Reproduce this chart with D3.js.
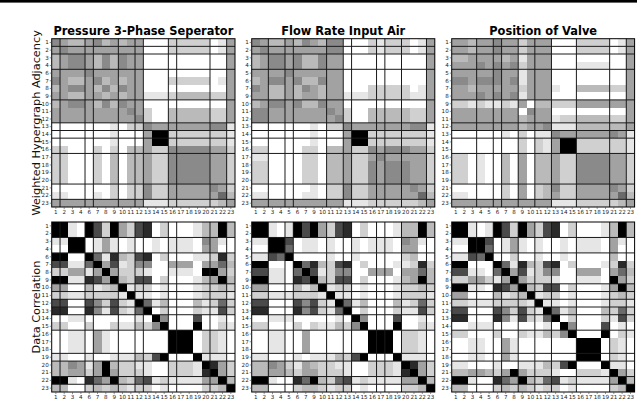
<!DOCTYPE html>
<html>
<head>
<meta charset="utf-8">
<script src="https://cdn.jsdelivr.net/npm/d3@7"></script>
<style>
  body { margin: 0; background: #fff; }
  svg { display: block; font-family: "DejaVu Sans", sans-serif; }
</style>
</head>
<body>
<svg id="chart" width="640" height="400"></svg>
<script>
// titles
const titles = ["Pressure 3-Phase Seperator", "Flow Rate Input Air", "Position of Valve"];
const rowTitles = ["Weighted Hypergraph Adjacency", "Data Correlation"];

// variables shown in each column (the target variable is left out)
const labelsPressure = [1, 2, 3, 4, 6, 7, 8, 9, 10, 11, 12, 13, 14, 15, 16, 17, 18, 19, 20, 21, 22, 23];
const labelsFlow = [1, 2, 3, 4, 5, 6, 7, 9, 10, 11, 12, 13, 14, 15, 16, 17, 18, 19, 20, 21, 22, 23];
const labelsValve = [1, 2, 3, 4, 5, 6, 7, 8, 9, 10, 11, 12, 13, 14, 15, 16, 17, 18, 19, 21, 22, 23];

// weighted hypergraph adjacency, upper triangle per row, shade 0 (white) .. 9 (black)
const adjPressure = [
  "5433453434400022222014",
  "544444444400022222014",
  "55435354400000000004",
  "5435354400000000004",
  "544444400000000004",
  "53434400022222014",
  "5354400000000004",
  "434411123333224",
  "54400000000004",
  "5420033333224",
  "520033333224",
  "54444444551",
  "9922222221",
  "922222221",
  "55555442",
  "5555442",
  "555442",
  "55442",
  "5442",
  "542",
  "63",
  "4"
];
const adjFlow = [
  "5433435435500021222014",
  "544444445500021222014",
  "55453354400000000004",
  "5453354400000000004",
  "544444400000000004",
  "53354400000000004",
  "5434400022222014",
  "434411122222114",
  "54400000000004",
  "5420033333224",
  "520033333224",
  "54444444551",
  "9922222221",
  "922222221",
  "54555442",
  "5444442",
  "555442",
  "55442",
  "5442",
  "542",
  "63",
  "4"
];
const adjValve = [
  "4434454424440002222014",
  "434454424440002222014",
  "44443414440000000004",
  "5454524440001111004",
  "454414440000000004",
  "54514440000000004",
  "4424441003333224",
  "514440000000004",
  "40332224444444",
  "5440000000004",
  "441223333224",
  "51113333334",
  "5444444541",
  "992222221",
  "92222221",
  "5555442",
  "555442",
  "55442",
  "5442",
  "542",
  "63",
  "4"
];

// correlation between all 23 variables, upper triangle per row, same shades
const corrAll = [
  "99101972942780200013393",
  "9101972942780200013393",
  "997014101001011105410",
  "96014101001011104400",
  "9002001001000002300",
  "961832780200011282",
  "94712550044404463",
  "9422210011109942",
  "932770200013493",
  "91220100012232",
  "9110100012221",
  "961300031262",
  "90200021172",
  "9500070010",
  "900090021",
  "99902210",
  "9902210",
  "902210",
  "91110",
  "9842",
  "942",
  "93",
  "9"
];

// layout
const colX = [[51.7, 235], [251.7, 434.8], [451.7, 634.6]];
const rowY = [[38.7, 207], [222, 392]];
// cell borders that show up as dark lines
const vLines = [[1, 4, 5, 8, 10, 11, 14, 15, 19, 21], [2, 4, 5, 9, 11, 12, 15, 16, 18, 21], [3, 5, 6, 8, 10, 12, 15, 19, 21]];
const hLines = [[1, 2, 4, 8, 11, 12, 13, 15, 19, 21], [2, 4, 8, 9, 10, 11, 12, 14, 17, 18, 20, 21]];

const shade = d3.scaleLinear()
  .domain(d3.range(10))
  .range(["#ffffff", "#e6e6e6", "#d0d0d0", "#bababa", "#a2a2a2", "#8a8a8a", "#6a6a6a", "#4a4a4a", "#2a2a2a", "#000000"]);

function fromUpper(rows) {
  let n = rows.length;
  let m = d3.range(n).map(() => new Array(n).fill(0));
  rows.forEach((r, i) => {
    r.split('').forEach((c, k) => {
      m[i][i + k] = +c;
      m[i + k][i] = +c;
    });
  });
  return m;
}

// pick the panel's variables out of the full correlation
let corrFull = fromUpper(corrAll);
function subCorr(labels) {
  return labels.map(a => labels.map(b => corrFull[a - 1][b - 1]));
}

const svg = d3.select('#chart');
svg.append('rect').attr('x', 0).attr('y', 0).attr('width', 637).attr('height', 2.6).attr('fill', '#000');

const labelSets = [labelsPressure, labelsFlow, labelsValve];
const panels = [
  [fromUpper(adjPressure), fromUpper(adjFlow), fromUpper(adjValve)],
  labelSets.map(subCorr)
];

function drawPanel(g, labels, m, cx, ry, vl, hl) {
  let names = labels.map(String);
  let x = d3.scaleBand().domain(names).range(colX[cx]);
  let y = d3.scaleBand().domain(names).range(rowY[ry]);
  let cells = [];
  m.forEach((row, i) => row.forEach((v, j) => cells.push({r: names[i], c: names[j], v: v})));

  g.selectAll('rect.cell')
    .data(cells)
    .enter().append('rect')
    .attr('class', 'cell')
    .attr('x', d => x(d.c))
    .attr('y', d => y(d.r))
    .attr('width', x.bandwidth())
    .attr('height', y.bandwidth())
    .attr('fill', d => shade(d.v))
    .attr('shape-rendering', 'crispEdges');

  // dark separators
  g.selectAll('line.v')
    .data(vl)
    .enter().append('line')
    .attr('x1', k => x.range()[0] + k * x.bandwidth())
    .attr('x2', k => x.range()[0] + k * x.bandwidth())
    .attr('y1', y.range()[0]).attr('y2', y.range()[1])
    .attr('stroke', '#1a1a1a').attr('stroke-width', 1);
  g.selectAll('line.h')
    .data(hl)
    .enter().append('line')
    .attr('y1', k => y.range()[0] + k * y.bandwidth())
    .attr('y2', k => y.range()[0] + k * y.bandwidth())
    .attr('x1', x.range()[0]).attr('x2', x.range()[1])
    .attr('stroke', '#1a1a1a').attr('stroke-width', 1);

  g.append('rect')
    .attr('x', x.range()[0]).attr('y', y.range()[0])
    .attr('width', x.range()[1] - x.range()[0])
    .attr('height', y.range()[1] - y.range()[0])
    .attr('fill', 'none').attr('stroke', '#000').attr('stroke-width', 1);

  // ticks
  let yAxis = g.append('g').attr('transform', `translate(${x.range()[0]},0)`)
    .call(d3.axisLeft(y).tickSize(2).tickPadding(1));
  let xAxis = g.append('g').attr('transform', `translate(0,${y.range()[1]})`)
    .call(d3.axisBottom(x).tickSize(2).tickPadding(1));
  [xAxis, yAxis].forEach(a => {
    a.select('.domain').remove();
    a.selectAll('text').attr('font-size', 5.6).attr('font-family', '"DejaVu Sans", sans-serif').attr('fill', '#222');
    a.selectAll('line').attr('stroke', '#444').attr('stroke-width', 0.6);
  });
}

panels.forEach((row, ry) => {
  row.forEach((m, cx) => {
    let g = svg.append('g');
    drawPanel(g, labelSets[cx], m, cx, ry, vLines[cx], hLines[ry]);
  });
});

// column titles
svg.selectAll('text.title')
  .data(titles)
  .enter().append('text')
  .attr('class', 'title')
  .attr('x', (d, i) => (colX[i][0] + colX[i][1]) / 2)
  .attr('y', 35)
  .attr('text-anchor', 'middle')
  .attr('font-size', 11.4)
  .attr('font-weight', 'bold')
  .text(d => d);

// row titles
svg.selectAll('text.rowtitle')
  .data(rowTitles)
  .enter().append('text')
  .attr('class', 'rowtitle')
  .attr('transform', (d, i) => `translate(40,${(rowY[i][0] + rowY[i][1]) / 2}) rotate(-90)`)
  .attr('text-anchor', 'middle')
  .attr('font-size', 11.3)
  .attr('fill', '#111')
  .text(d => d);
</script>
</body>
</html>
